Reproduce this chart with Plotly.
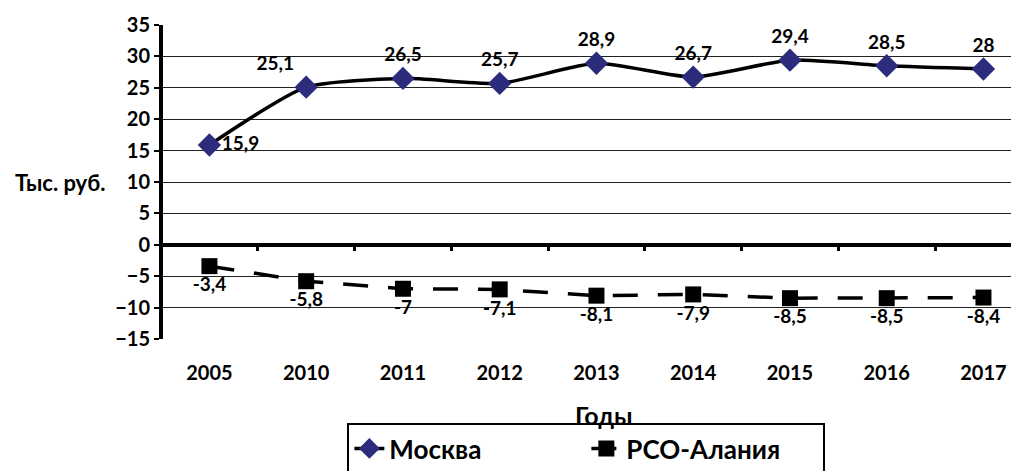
import plotly.graph_objects as go

years = ["2005", "2010", "2011", "2012", "2013", "2014", "2015", "2016", "2017"]
moscow = [15.9, 25.1, 26.5, 25.7, 28.9, 26.7, 29.4, 28.5, 28.0]
alania = [-3.4, -5.8, -7.0, -7.1, -8.1, -7.9, -8.5, -8.5, -8.4]
moscow_labels = ["15,9", "25,1", "26,5", "25,7", "28,9", "26,7", "29,4", "28,5", "28"]
alania_labels = ["-3,4", "-5,8", "-7", "-7,1", "-8,1", "-7,9", "-8,5", "-8,5", "-8,4"]
y_ticks = [35, 30, 25, 20, 15, 10, 5, 0, -5, -10, -15]

FONT = "Lato"
idx = list(range(len(years)))
XR = [-0.48, 8.45]

fig = go.Figure()
fig.add_trace(go.Scatter(
    x=idx, y=moscow, name="Москва", mode="lines+markers+text",
    line=dict(color="black", width=3.5, shape="spline", smoothing=0.6),
    marker=dict(symbol="diamond", size=18, color="#2B2C7C"),
    text=moscow_labels,
    textposition=["middle right", "top left"] + ["top center"] * 7,
    textfont=dict(family=FONT, size=19, color="black", weight="bold"),
))
fig.add_trace(go.Scatter(
    x=idx, y=alania, name="РСО-Алания", mode="lines+markers+text",
    line=dict(color="black", width=3.5, dash="25px,20px"),
    marker=dict(symbol="square", size=16, color="black"),
    text=alania_labels,
    textposition="bottom center",
    textfont=dict(family=FONT, size=19, color="black", weight="bold"),
))
fig.add_trace(go.Scatter(x=[0], y=[0], xaxis="x2", mode="markers",
                         marker=dict(opacity=0), showlegend=False, hoverinfo="skip"))

fig.update_layout(
    width=1019, height=471,
    margin=dict(l=155, r=0, t=17, b=140),
    paper_bgcolor="white", plot_bgcolor="white",
    font=dict(family=FONT, color="black"),
    xaxis=dict(
        tickmode="array", tickvals=idx, ticktext=years,
        range=XR, showgrid=False, zeroline=False, showline=False,
        ticks="", ticklabelstandoff=20,
        tickfont=dict(family=FONT, size=20, color="black", weight="bold"),
    ),
    xaxis2=dict(
        overlaying="x", anchor="free", position=0.3,
        range=XR, tickmode="array",
        tickvals=[i + 0.5 for i in idx[:-1]],
        showticklabels=False, ticks="outside", ticklen=5, tickwidth=3,
        tickcolor="black", showgrid=False, zeroline=False, showline=False,
    ),
    yaxis=dict(
        range=[-15, 35], tickmode="array", tickvals=y_ticks,
        showgrid=True, gridcolor="#222222", gridwidth=1.2,
        zeroline=True, zerolinecolor="black", zerolinewidth=4,
        showline=True, linecolor="black", linewidth=4,
        ticks="outside", ticklen=5, tickwidth=2, tickcolor="black",
        tickfont=dict(family=FONT, size=20, color="black", weight="bold"),
    ),
    legend=dict(
        orientation="h", x=0.49, xanchor="center", y=-0.2675, yanchor="top",
        bordercolor="black", borderwidth=2, bgcolor="white",
        font=dict(family=FONT, size=26, color="black", weight="bold"),
        entrywidth=192, entrywidthmode="pixels",
    ),
    showlegend=True,
    annotations=[
        dict(text="Годы", xref="paper", yref="paper", x=0.51, y=0,
             xanchor="center", yanchor="middle", yshift=-76, showarrow=False,
             font=dict(family=FONT, size=25, color="black", weight="bold")),
        dict(text="Тыс. руб.", xref="paper", yref="y", x=0, y=10,
             xanchor="right", yanchor="middle", xshift=-56, showarrow=False,
             font=dict(family=FONT, size=22, color="black", weight="bold")),
    ],
)

fig.write_html("out.html")
